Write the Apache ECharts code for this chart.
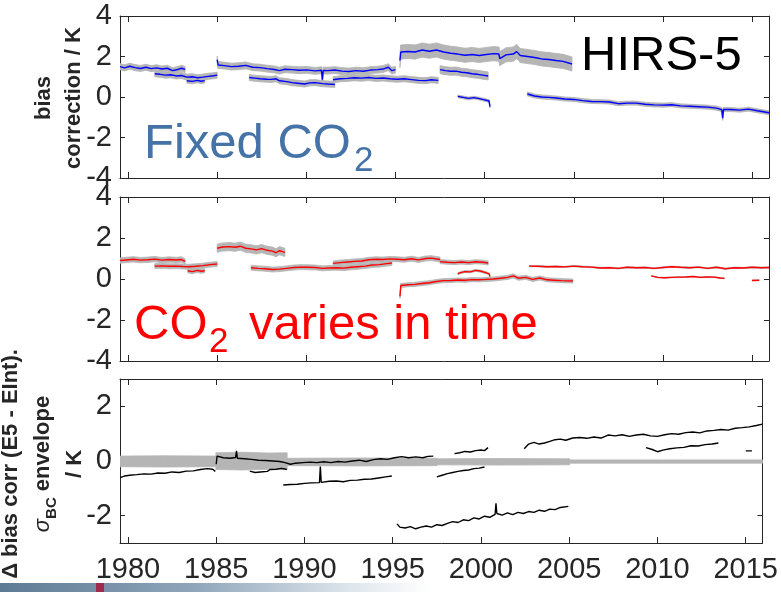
<!DOCTYPE html>
<html><head><meta charset="utf-8">
<script src="https://cdn.jsdelivr.net/npm/echarts@6.0.0/dist/echarts.min.js"></script>
<style>html,body{margin:0;padding:0;background:#fff}#c{width:781px;height:592px}</style>
</head><body><div id="c"></div>
<script>
// ---------- tick labels ----------
const YEAR_TICKS = [1980, 1985, 1990, 1995, 2000, 2005, 2010, 2015];
const Y_TICKS_BIAS = [-4, -2, 0, 2, 4];
const Y_TICKS_DIFF = [-2, 0, 2];

// ---------- Panel 1: bias correction, fixed CO2 (blue) [year, K] ----------
const fixA1 = [[1979.55,1.50],[1979.8,1.44],[1980.1,1.52],[1980.4,1.45],[1980.7,1.41],[1981.0,1.47],[1981.3,1.40],[1981.6,1.44],[1981.9,1.38],[1982.2,1.42],[1982.5,1.30],[1982.8,1.36],[1983.0,1.42],[1983.2,1.36]];
const fixA1Sig = 0.15;
const fixA2 = [[1981.5,1.15],[1981.8,1.12],[1982.1,1.08],[1982.4,1.10],[1982.7,1.04],[1983.0,1.06],[1983.3,0.98],[1983.6,1.00],[1983.9,0.95],[1984.2,0.98],[1984.5,1.02],[1984.8,1.05],[1985.0,1.08]];
const fixA2Sig = 0.15;
const fixA3 = [[1983.3,0.80],[1983.6,0.77],[1983.9,0.82],[1984.1,0.78],[1984.3,0.81]];
const fixA3Sig = 0.12;
const fixB = [[1985.0,1.85],[1985.05,1.58],[1985.4,1.55],[1985.8,1.50],[1986.2,1.52],[1986.6,1.56],[1987.0,1.47],[1987.4,1.45],[1987.8,1.40],[1988.2,1.36],[1988.5,1.30],[1988.8,1.37],[1989.2,1.35],[1989.6,1.32],[1990.0,1.34],[1990.5,1.29],[1990.85,1.32],[1990.9,0.85],[1990.95,1.31],[1991.2,1.30],[1991.6,1.33],[1992.0,1.28],[1992.4,1.26],[1992.8,1.30],[1993.2,1.27],[1993.6,1.33],[1994.0,1.35],[1994.3,1.38],[1994.6,1.47],[1994.8,1.30],[1995.0,1.35]];
const fixBSig = 0.17;
const fixC1 = [[1986.8,0.96],[1987.1,0.93],[1987.4,0.90],[1987.8,0.88],[1988.05,0.87],[1988.3,0.90],[1988.5,0.80],[1988.9,0.76],[1989.2,0.71],[1989.5,0.68],[1989.9,0.64],[1990.2,0.70],[1990.5,0.71],[1990.9,0.66],[1991.2,0.64],[1991.6,0.62]];
const fixC1Sig = 0.15;
const fixC2 = [[1991.5,0.85],[1991.9,0.90],[1992.3,0.92],[1992.7,0.95],[1993.1,0.93],[1993.5,0.96],[1993.9,0.92],[1994.3,0.94],[1994.7,0.90],[1995.1,0.88],[1995.5,0.90],[1995.9,0.86],[1996.3,0.82],[1996.7,0.81],[1997.0,0.85],[1997.4,0.82]];
const fixC2Sig = 0.15;
const fixD = [[1997.5,1.35],[1997.8,1.30],[1998.1,1.27],[1998.4,1.28],[1998.7,1.22],[1999.0,1.20],[1999.3,1.15],[1999.6,1.12],[1999.9,1.08],[2000.2,1.04]];
const fixDSig = 0.2;
const fixE = [[1995.25,1.80],[1995.3,2.22],[1995.7,2.25],[1996.1,2.22],[1996.5,2.32],[1996.9,2.26],[1997.3,2.32],[1997.7,2.22],[1998.1,2.16],[1998.5,2.12],[1998.9,2.06],[1999.3,2.10],[1999.7,2.05],[2000.1,2.10],[2000.5,2.14],[2000.8,2.12],[2000.85,1.90],[2001.2,2.08],[2001.6,2.12],[2001.8,2.24],[2002.0,2.05],[2002.4,2.00],[2002.8,1.95],[2003.2,1.88],[2003.6,1.85],[2004.0,1.80],[2004.4,1.76],[2004.9,1.63]];
const fixESig = 0.35;
const fixF = [[1998.5,0.03],[1998.8,-0.02],[1999.1,-0.07],[1999.4,-0.03],[1999.7,-0.08],[2000.0,-0.14],[2000.25,-0.20],[2000.3,-0.48]];
const fixFSig = 0.07;
const fixG = [[2002.4,0.15],[2002.8,0.05],[2003.2,0.00],[2003.6,-0.02],[2004.0,-0.05],[2004.5,-0.10],[2005.0,-0.12],[2005.5,-0.18],[2006.0,-0.22],[2006.5,-0.23],[2007.0,-0.25],[2007.5,-0.33],[2008.0,-0.30],[2008.5,-0.30],[2009.0,-0.36],[2009.5,-0.39],[2010.0,-0.40],[2010.5,-0.38],[2011.0,-0.44],[2011.5,-0.46],[2012.0,-0.48],[2012.5,-0.50],[2013.0,-0.55],[2013.3,-0.62],[2013.35,-1.05],[2013.4,-0.62],[2013.8,-0.62],[2014.3,-0.65],[2014.8,-0.60],[2015.3,-0.68],[2015.95,-0.78]];
const fixGSig = 0.1;

// ---------- Panel 2: bias correction, CO2 varies in time (red) [year, K] ----------
const varA1 = [[1979.55,0.90],[1979.9,0.93],[1980.3,0.96],[1980.7,0.92],[1981.1,0.94],[1981.5,0.97],[1981.9,0.92],[1982.3,0.95],[1982.7,0.93],[1983.0,0.95],[1983.2,0.86]];
const varA1Sig = 0.13;
const varA2 = [[1981.5,0.63],[1981.9,0.64],[1982.3,0.62],[1982.7,0.63],[1983.1,0.61],[1983.4,0.60],[1983.8,0.62],[1984.2,0.65],[1984.6,0.70],[1985.0,0.73]];
const varA2Sig = 0.12;
const varA3 = [[1983.35,0.40],[1983.6,0.36],[1983.9,0.42],[1984.1,0.38],[1984.3,0.40]];
const varA3Sig = 0.1;
const varB = [[1985.0,1.50],[1985.3,1.56],[1985.7,1.58],[1986.0,1.55],[1986.3,1.60],[1986.6,1.50],[1986.9,1.47],[1987.2,1.42],[1987.5,1.48],[1987.8,1.40],[1988.1,1.36],[1988.3,1.28],[1988.5,1.38],[1988.8,1.30]];
const varBSig = 0.2;
const varC1 = [[1986.9,0.55],[1987.3,0.52],[1987.7,0.50],[1988.1,0.46],[1988.5,0.48],[1988.9,0.52],[1989.3,0.56],[1989.7,0.58],[1990.1,0.57],[1990.5,0.56],[1990.9,0.52],[1991.3,0.54],[1991.7,0.55],[1992.1,0.53],[1992.5,0.57],[1992.9,0.60],[1993.3,0.63],[1993.7,0.68],[1994.1,0.70],[1994.5,0.75],[1994.8,0.78]];
const varC1Sig = 0.12;
const varC2 = [[1991.5,0.76],[1991.9,0.80],[1992.3,0.83],[1992.7,0.86],[1993.1,0.88],[1993.5,0.94],[1993.9,0.96],[1994.3,0.95],[1994.7,0.98],[1995.1,0.96],[1995.5,0.94],[1995.9,0.99],[1996.3,0.93],[1996.7,1.00],[1997.0,1.02],[1997.5,0.95]];
const varC2Sig = 0.12;
const varD = [[1997.5,0.85],[1997.9,0.82],[1998.3,0.80],[1998.7,0.83],[1999.1,0.80],[1999.5,0.84],[1999.9,0.82],[2000.2,0.78]];
const varDSig = 0.1;
const varE = [[1998.5,0.26],[1998.7,0.32],[1998.9,0.36],[1999.2,0.35],[1999.5,0.42],[1999.8,0.38],[2000.1,0.30],[2000.25,0.25],[2000.3,0.12]];
const varESig = 0.05;
const varF = [[1995.25,-0.85],[1995.3,-0.32],[1995.7,-0.28],[1996.1,-0.26],[1996.5,-0.22],[1996.9,-0.18],[1997.3,-0.12],[1997.7,-0.08],[1998.1,-0.07],[1998.5,-0.05],[1998.9,-0.06],[1999.3,-0.03],[1999.7,-0.04],[2000.1,-0.02],[2000.5,0.00],[2000.9,0.04],[2001.3,0.08],[2001.6,0.15],[2001.9,0.04],[2002.3,0.08],[2002.7,-0.02],[2003.1,0.05],[2003.5,-0.04],[2003.9,-0.06],[2004.3,-0.08],[2004.95,-0.10]];
const varFSig = 0.1;
const varG = [[2002.5,0.63],[2003.0,0.62],[2003.5,0.60],[2004.0,0.61],[2004.5,0.59],[2005.0,0.63],[2005.5,0.60],[2006.0,0.58],[2006.5,0.54],[2007.0,0.55],[2007.5,0.52],[2008.0,0.57],[2008.5,0.55],[2009.0,0.56],[2009.5,0.52],[2010.0,0.56],[2010.5,0.60],[2011.0,0.57],[2011.5,0.55],[2012.0,0.58],[2012.5,0.52],[2013.0,0.57],[2013.5,0.50],[2014.0,0.55],[2014.5,0.54],[2015.0,0.57],[2015.5,0.55],[2015.95,0.56]];
const varGSig = 0.03;
const varH = [[2009.35,0.15],[2009.7,0.08],[2010.1,0.06],[2010.5,0.08],[2010.9,0.09],[2011.3,0.10],[2011.7,0.12],[2012.1,0.08],[2012.5,0.10],[2012.9,0.09],[2013.2,0.05],[2013.45,0.03]];
const varHSig = 0.02;
const varI = [[2015.0,-0.07],[2015.4,-0.06]];
const varISig = 0.02;

// ---------- Panel 3: difference (black) [year, K] and sigma_BC envelope [year, low, high] ----------
const envBC = [[1979.55,-0.21,0.18],[1982.0,-0.22,0.19],[1985.0,-0.21,0.18],[1985.0,-0.31,0.30],[1986.5,-0.33,0.32],[1988.0,-0.30,0.29],[1989.0,-0.31,0.30],[1989.0,-0.17,0.10],[1993.0,-0.18,0.11],[1997.5,-0.17,0.10],[1997.5,-0.14,0.08],[2001.0,-0.15,0.09],[2005.0,-0.14,0.08],[2005.0,-0.08,0.04],[2010.0,-0.08,0.04],[2015.95,-0.08,0.04]];
const difK1 = [[1979.55,-0.61],[1979.8,-0.55],[1980.1,-0.52],[1980.5,-0.50],[1980.9,-0.47],[1981.3,-0.48],[1981.7,-0.44],[1982.1,-0.45],[1982.5,-0.40],[1982.9,-0.42],[1983.3,-0.37],[1983.7,-0.36],[1984.1,-0.31],[1984.5,-0.28],[1984.8,-0.30],[1984.95,-0.38]];
const difK2 = [[1985.0,-0.12],[1985.05,0.18],[1985.4,0.12],[1985.8,0.10],[1986.1,0.13],[1986.15,0.37],[1986.2,0.10],[1986.6,0.08],[1987.0,0.06],[1987.4,0.03],[1987.8,0.02],[1988.2,0.00],[1988.6,-0.02],[1988.9,-0.06],[1989.2,-0.12],[1989.5,-0.08],[1989.9,-0.06],[1990.3,-0.04],[1990.7,-0.06],[1991.1,-0.03],[1991.5,-0.06],[1991.9,-0.02],[1992.3,-0.04],[1992.7,0.00],[1993.1,0.03],[1993.5,-0.02],[1993.9,0.05],[1994.3,0.08],[1994.7,0.06],[1995.1,0.12],[1995.5,0.16],[1995.9,0.12],[1996.3,0.15],[1996.7,0.12],[1997.0,0.17],[1997.3,0.18]];
const difK3 = [[1986.9,-0.37],[1987.2,-0.42],[1987.5,-0.40],[1987.9,-0.38],[1988.05,-0.31],[1988.4,-0.30],[1988.7,-0.27],[1989.0,-0.31]];
const difK4 = [[1988.8,-0.88],[1989.2,-0.86],[1989.6,-0.85],[1990.0,-0.82],[1990.4,-0.80],[1990.85,-0.79],[1990.9,-0.20],[1990.95,-0.78],[1991.4,-0.74],[1991.8,-0.73],[1992.2,-0.76],[1992.6,-0.71],[1993.0,-0.70],[1993.4,-0.67],[1993.8,-0.66],[1994.2,-0.62],[1994.6,-0.58],[1994.95,-0.55]];
const difK5 = [[1997.5,-0.58],[1997.8,-0.52],[1998.1,-0.46],[1998.4,-0.42],[1998.7,-0.38],[1999.0,-0.35],[1999.3,-0.33],[1999.6,-0.28],[1999.9,-0.26],[2000.2,-0.22]];
const difK6 = [[1998.5,0.27],[1998.8,0.30],[1999.1,0.35],[1999.4,0.33],[1999.7,0.38],[2000.0,0.40],[2000.2,0.38],[2000.4,0.49]];
const difK7 = [[1995.25,-2.30],[1995.4,-2.42],[1995.7,-2.45],[1996.0,-2.40],[1996.3,-2.48],[1996.6,-2.42],[1996.9,-2.38],[1997.2,-2.42],[1997.5,-2.33],[1997.8,-2.36],[1998.1,-2.28],[1998.4,-2.22],[1998.7,-2.25],[1999.0,-2.15],[1999.3,-2.18],[1999.6,-2.08],[1999.9,-2.12],[2000.2,-2.02],[2000.5,-2.06],[2000.8,-1.95],[2000.85,-1.55],[2000.9,-1.92],[2001.2,-1.98],[2001.5,-1.90],[2001.8,-1.96],[2002.1,-1.88],[2002.4,-1.92],[2002.7,-1.85],[2003.0,-1.88],[2003.3,-1.80],[2003.6,-1.84],[2003.9,-1.76],[2004.2,-1.78],[2004.5,-1.70],[2004.95,-1.66]];
const difK8 = [[2002.45,0.45],[2002.7,0.62],[2003.0,0.68],[2003.3,0.62],[2003.6,0.66],[2003.9,0.72],[2004.2,0.78],[2004.5,0.80],[2004.8,0.76],[2005.2,0.84],[2005.6,0.86],[2006.0,0.83],[2006.4,0.88],[2006.8,0.84],[2007.2,0.95],[2007.6,0.92],[2008.0,0.96],[2008.4,0.90],[2008.8,0.95],[2009.2,0.98],[2009.6,0.92],[2010.0,0.90],[2010.4,0.96],[2010.8,1.00],[2011.2,0.98],[2011.6,1.04],[2012.0,1.06],[2012.4,1.03],[2012.8,1.10],[2013.2,1.12],[2013.6,1.15],[2014.0,1.13],[2014.4,1.20],[2014.8,1.22],[2015.2,1.25],[2015.6,1.30],[2015.95,1.35]];
const difK9 = [[2009.35,0.49],[2009.7,0.42],[2010.0,0.34],[2010.3,0.40],[2010.7,0.45],[2011.1,0.48],[2011.5,0.50],[2011.9,0.56],[2012.3,0.55],[2012.7,0.60],[2013.1,0.62],[2013.45,0.66]];
const difK10 = [[2015.0,0.37],[2015.35,0.37]];

// ---------- build ----------
const FONT = '"Liberation Sans", Arial, sans-serif';
const AX = '#262626';
const BAND = '#b5b5b5';

const fixedSegs = [[fixA1,fixA1Sig],[fixA2,fixA2Sig],[fixA3,fixA3Sig],[fixB,fixBSig],[fixC1,fixC1Sig],[fixC2,fixC2Sig],[fixD,fixDSig],[fixE,fixESig],[fixF,fixFSig],[fixG,fixGSig]];
const varSegs = [[varA1,varA1Sig],[varA2,varA2Sig],[varA3,varA3Sig],[varB,varBSig],[varC1,varC1Sig],[varC2,varC2Sig],[varD,varDSig],[varE,varESig],[varF,varFSig],[varG,varGSig],[varH,varHSig],[varI,varISig]];
const difSegs = [difK1,difK2,difK3,difK4,difK5,difK6,difK7,difK8,difK9,difK10];

function bandRender(params, api) {
  const k = params.dataIndexInside;
  if (k >= params.dataInsideLength - 1) return null;
  const x0 = api.value(0, k), x1 = api.value(0, k + 1);
  const a = api.coord([x0, api.value(1, k)]);
  const b = api.coord([x1, api.value(1, k + 1)]);
  const c = api.coord([x1, api.value(2, k + 1)]);
  const d = api.coord([x0, api.value(2, k)]);
  return { type: 'polygon', shape: { points: [a, b, c, d] },
           style: { fill: BAND, stroke: BAND, lineWidth: 0.8 } };
}
function bandSeries(rows, gi) {
  return { type: 'custom', xAxisIndex: gi * 2, yAxisIndex: gi * 2, z: 1, silent: true, clip: true,
           encode: { x: 0, y: [1, 2] }, data: rows, renderItem: bandRender };
}
function lineSeries(seg, gi, color) {
  return { type: 'line', xAxisIndex: gi * 2, yAxisIndex: gi * 2, data: seg, symbol: 'none', showSymbol: false,
           z: 3, silent: true, clip: true, lineStyle: { color: color, width: 1.4 } };
}

const series = [];
fixedSegs.forEach(([s, g]) => series.push(bandSeries(s.map(p => [p[0], p[1] - g, p[1] + g]), 0)));
varSegs.forEach(([s, g]) => series.push(bandSeries(s.map(p => [p[0], p[1] - g, p[1] + g]), 1)));
series.push(bandSeries(envBC.map(p => [p[0], p[1], p[2]]), 2));
fixedSegs.forEach(([s]) => series.push(lineSeries(s, 0, '#0000ff')));
varSegs.forEach(([s]) => series.push(lineSeries(s, 1, '#ff0000')));
difSegs.forEach(s => series.push(lineSeries(s, 2, '#000000')));

const grids = [
  { left: 120, top: 16, width: 649, height: 162 },
  { left: 120, top: 197, width: 649, height: 164 },
  { left: 120, top: 379, width: 649, height: 164 }
];
const LABEL_SIZE = 29;
const xAxes = [], yAxes = [];
grids.forEach((g, gi) => {
  ['bottom', 'top'].forEach(pos => {
    xAxes.push({ type: 'value', gridIndex: gi, position: pos, min: 1979.55, max: 2015.95,
      axisLine: { show: true, onZero: false, lineStyle: { color: AX, width: 1 } },
      axisTick: { show: true, inside: true, length: 6, customValues: YEAR_TICKS, lineStyle: { color: AX } },
      axisLabel: { show: gi === 2 && pos === 'bottom', customValues: YEAR_TICKS, color: AX, fontSize: LABEL_SIZE,
                   fontFamily: FONT, margin: 12, formatter: v => String(Math.round(v)) },
      splitLine: { show: false } });
  });
  const yt = gi === 2 ? Y_TICKS_DIFF : Y_TICKS_BIAS;
  const ymin = gi === 2 ? -3 : -4, ymax = gi === 2 ? 3 : 4;
  ['left', 'right'].forEach(pos => {
    yAxes.push({ type: 'value', gridIndex: gi, position: pos, min: ymin, max: ymax,
      axisLine: { show: true, onZero: false, lineStyle: { color: AX, width: 1 } },
      axisTick: { show: true, inside: true, length: 5, customValues: yt, lineStyle: { color: AX } },
      axisLabel: { show: pos === 'left', customValues: yt, color: AX, fontSize: LABEL_SIZE, fontFamily: FONT, margin: 8,
                   formatter: v => String(Math.round(v)) },
      splitLine: { show: false } });
  });
});

const bigText = (x, y, text, size, color) => ({ type: 'text', x: x, y: y, silent: true,
  style: { text: text, fontSize: size, fontFamily: FONT, fill: color, align: 'left', verticalAlign: 'middle' } });

const graphic = [
  bigText(581, 56, 'HIRS-5', 49, '#000000'),
  bigText(144, 144, 'Fixed CO', 49, '#4572a7'),
  bigText(354, 161, '2', 35, '#4572a7'),
  bigText(134, 325, 'CO', 49, '#ff0000'),
  bigText(209, 342, '2', 35, '#ff0000'),
  bigText(249, 325, 'varies in time', 49, '#ff0000'),
  { type: 'text', x: 59, y: 98, rotation: Math.PI / 2, silent: true,
    style: { text: 'bias\ncorrection / K', fontSize: 22, fontWeight: 'bold', fontFamily: FONT, fill: AX,
             lineHeight: 30, align: 'center', verticalAlign: 'middle' } },
  { type: 'text', x: 43, y: 464, rotation: Math.PI / 2, silent: true,
    style: { text: '{b|\u0394 bias corr (E5 - EInt).}\n{s|\u03c3}{sub|BC}{b| envelope}\n{b|/ K}',
             align: 'center', verticalAlign: 'middle', fontFamily: FONT, fill: AX,
             rich: {
               b: { fontSize: 22, fontWeight: 'bold', fontFamily: FONT, fill: AX, lineHeight: 32 },
               s: { fontSize: 22, fontStyle: 'italic', fontFamily: FONT, fill: AX, lineHeight: 32 },
               sub: { fontSize: 15, fontWeight: 'bold', fontFamily: FONT, fill: AX, lineHeight: 20, verticalAlign: 'bottom' }
             } } },
  { type: 'rect', silent: true, shape: { x: 0, y: 583, width: 781, height: 9 },
    style: { fill: { type: 'linear', x: 0, y: 0, x2: 1, y2: 0,
      colorStops: [{ offset: 0, color: '#5d7a94' }, { offset: 0.25, color: '#90a6ba' }, { offset: 0.45, color: '#dfe6ec' }, { offset: 0.55, color: '#ffffff' }, { offset: 1, color: '#ffffff' }] } } },
  { type: 'rect', silent: true, shape: { x: 96, y: 583, width: 8, height: 9 }, style: { fill: '#9e2a4c' } }
];

const chart = echarts.init(document.getElementById('c'), null, { renderer: 'canvas' });
chart.setOption({
  animation: false,
  backgroundColor: '#ffffff',
  grid: grids,
  xAxis: xAxes,
  yAxis: yAxes,
  series: series,
  graphic: graphic
});
</script>
</body></html>
